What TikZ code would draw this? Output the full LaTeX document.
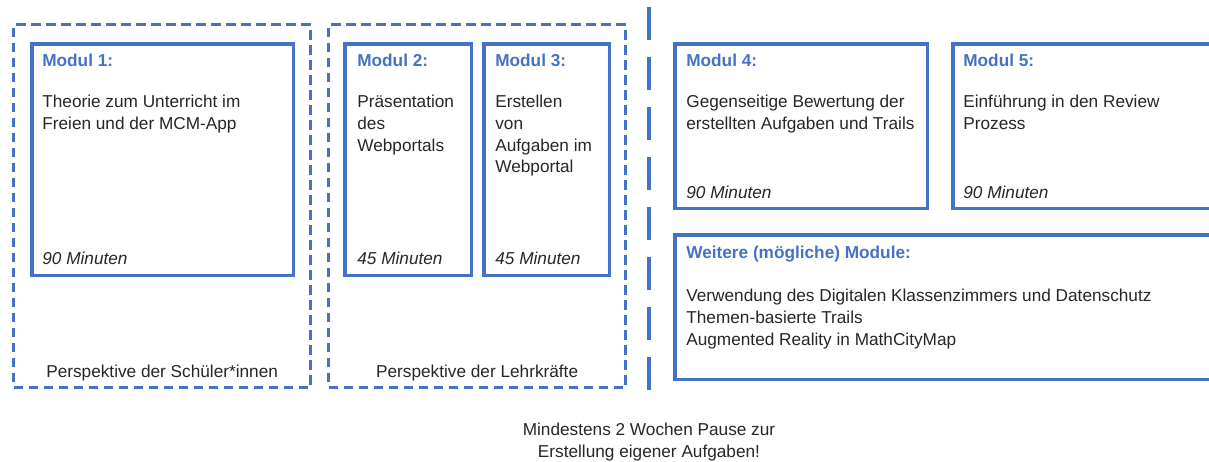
\documentclass[tikz,border=0pt]{standalone}
\usepackage{fontspec}
\setmainfont{Liberation Sans}
\usepackage{xcolor}
\usetikzlibrary{positioning, calc}
\definecolor{mcmblue}{RGB}{68,114,196}
\definecolor{mcmtext}{RGB}{38,38,38}

\begin{document}
\begin{tikzpicture}[x=0.02cm, y=0.02cm,
  modbox/.style={rectangle, draw=mcmblue, line width=2pt, anchor=north west, inner sep=0pt},
  group/.style={rectangle, draw=mcmblue, line width=1.9pt, dash pattern=on 0.19cm off 0.11cm, anchor=north west, inner sep=0pt, minimum width=5.94cm, minimum height=7.26cm},
  head/.style={anchor=base west, inner sep=0pt, text=mcmblue, font=\fontsize{9.8}{12.3}\selectfont\bfseries},
  body/.style={anchor=north west, inner sep=0pt, text=mcmtext, align=left, font=\fontsize{9.8}{12.3}\selectfont},
  dur/.style={anchor=base west, inner sep=0pt, text=mcmtext, font=\fontsize{9.8}{12.3}\selectfont\itshape},
  note/.style={anchor=base, inner sep=0pt, text=mcmtext, align=center, font=\fontsize{9.8}{12.3}\selectfont}
]
\useasboundingbox (0,0) rectangle (1209,461);
% Gruppen
\node[group] (schueler) at (12,438) {};
\node[group] (lehrer) at (327,438) {};
\node[note] (pschueler) at ($(schueler.south)+(0,12)$) {Perspektive der Schüler*innen};
\node[note] (plehrer) at ($(lehrer.south)+(0,12)$) {Perspektive der Lehrkräfte};
% Module 1-3
\node[modbox, minimum width=5.24cm, minimum height=4.64cm] (m1) at (30,419) {};
\node[modbox, minimum width=2.54cm, minimum height=4.64cm] (m2) at (343,419) {};
\node[modbox, minimum width=2.52cm, minimum height=4.64cm] (m3) at (482,419) {};
\node[head] (m1h) at ($(m1.north west)+(12,-24)$) {Modul 1:};
\node[body] (m1b) at ($(m1.north west)+(12,-53)$) {Theorie zum Unterricht im\\Freien und der MCM-App};
\node[dur] (m1d) at ($(m1.south west)+(12,13)$) {90 Minuten};
\node[head] (m2h) at ($(m2.north west)+(14,-24)$) {Modul 2:};
\node[body] (m2b) at ($(m2.north west)+(14,-53)$) {Präsentation\\des\\Webportals};
\node[dur] (m2d) at ($(m2.south west)+(14,13)$) {45 Minuten};
\node[head] (m3h) at ($(m3.north west)+(13,-24)$) {Modul 3:};
\node[body] (m3b) at ($(m3.north west)+(13,-53)$) {Erstellen\\von\\Aufgaben im\\Webportal};
\node[dur] (m3d) at ($(m3.south west)+(13,13)$) {45 Minuten};
% Trennlinie
\coordinate (top) at (649,454);
\coordinate (bottom) at (649,71);
\draw[mcmblue, line width=1.9pt, dash pattern=on 0.66cm off 0.34cm] (top) -- (bottom);
% Module 4-5
\node[modbox, minimum width=5.06cm, minimum height=3.30cm] (m4) at (673,419) {};
\node[modbox, minimum width=5.28cm, minimum height=3.30cm] (m5) at (951,419) {};
\node[head] (m4h) at ($(m4.north west)+(13,-24)$) {Modul 4:};
\node[body] (m4b) at ($(m4.north west)+(13,-53)$) {Gegenseitige Bewertung der\\erstellten Aufgaben und Trails};
\node[dur] (m4d) at ($(m4.south west)+(13,12)$) {90 Minuten};
\node[head] (m5h) at ($(m5.north west)+(12,-24)$) {Modul 5:};
\node[body] (m5b) at ($(m5.north west)+(12,-53)$) {Einführung in den Review\\Prozess};
\node[dur] (m5d) at ($(m5.south west)+(12,12)$) {90 Minuten};
% Weitere
\node[modbox, minimum width=10.84cm, minimum height=2.90cm] (more) at (673,228) {};
\node[head] (moreh) at ($(more.north west)+(13,-25)$) {Weitere (mögliche) Module:};
\node[body] (moreb) at ($(more.north west)+(13,-56)$) {Verwendung des Digitalen Klassenzimmers und Datenschutz\\Themen-basierte Trails\\Augmented Reality in MathCityMap};
% Pause
\node[note, anchor=north] (pause) at (649,38) {Mindestens 2 Wochen Pause zur\\Erstellung eigener Aufgaben!};
\end{tikzpicture}
\end{document}
